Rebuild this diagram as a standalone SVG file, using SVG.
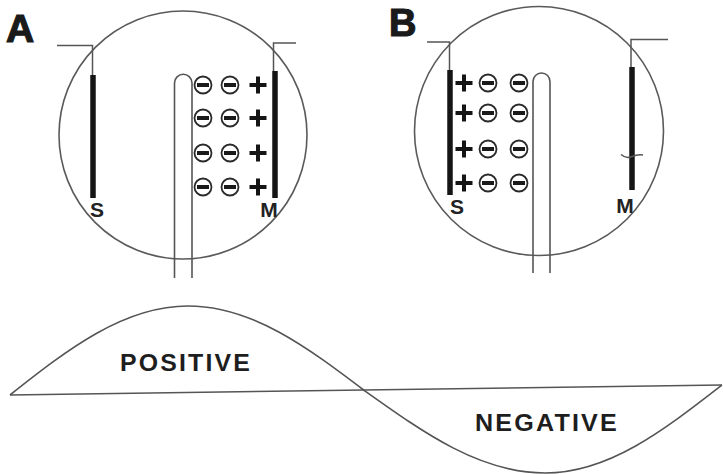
<svg xmlns="http://www.w3.org/2000/svg" xmlns:xlink="http://www.w3.org/1999/xlink" width="723" height="474" viewBox="0 0 723 474">
  <style>
    .bulb { fill: none; stroke: #5a5a5a; stroke-width: 1.6; }
    .wire { fill: none; stroke: #555; stroke-width: 1.5; }
    .plate { stroke: #151515; stroke-width: 5.5; stroke-linecap: butt; }
    .tube { fill: none; stroke: #555; stroke-width: 1.6; }
    .wave { fill: none; stroke: #555; stroke-width: 1.6; }
    .big { font-family: "Liberation Sans", Arial, sans-serif; font-weight: bold; fill: #1a1a1a; stroke: #1a1a1a; stroke-width: 1.2; }
    .lbl { font-family: "Liberation Sans", Arial, sans-serif; font-weight: bold; fill: #222; font-size: 21px; text-anchor: middle; }
    .half { font-family: "Liberation Sans", Arial, sans-serif; font-weight: bold; fill: #1e1e1e; font-size: 23px; }
  </style>
  <defs>
    <!-- electron: circled minus -->
    <g id="neg">
      <circle r="8.5" fill="#fff" stroke="#2a2a2a" stroke-width="1.8"/>
      <line x1="-6" y1="0" x2="6" y2="0" stroke="#1a1a1a" stroke-width="4"/>
    </g>
    <!-- positive charge -->
    <path id="pos" d="M-8.5,0H8.5M0,-8.5V8.5" stroke="#151515" stroke-width="4" fill="none"/>
  </defs>

  <!-- Tube A: electrons gathered by the M plate -->
  <g id="tube-a">
    <text class="big" x="6" y="42" font-size="39">A</text>
    <circle class="bulb" cx="183" cy="135" r="124"/>
    <path class="wire" d="M57,45.5H92.5V75"/>
    <line class="plate" x1="93" y1="75" x2="93" y2="198"/>
    <text class="lbl" x="97" y="217">S</text>
    <path class="wire" d="M296,43H273.5V71"/>
    <line class="plate" x1="275" y1="71" x2="275" y2="198"/>
    <text class="lbl" x="269" y="217">M</text>
    <path class="tube" d="M174.5,278V83A8.75,8.75 0 0 1 192,83V278"/>
    <g id="charges-a">
      <use xlink:href="#neg" x="203" y="85"/><use xlink:href="#neg" x="230" y="85"/><use xlink:href="#pos" x="258" y="85"/>
      <use xlink:href="#neg" x="203" y="118"/><use xlink:href="#neg" x="230" y="118"/><use xlink:href="#pos" x="258" y="118"/>
      <use xlink:href="#neg" x="203" y="153"/><use xlink:href="#neg" x="230" y="153"/><use xlink:href="#pos" x="258" y="153"/>
      <use xlink:href="#neg" x="203" y="187"/><use xlink:href="#neg" x="230" y="187"/><use xlink:href="#pos" x="258" y="187"/>
    </g>
  </g>

  <!-- Tube B: electrons gathered by the S plate -->
  <g id="tube-b">
    <text class="big" x="389" y="36" font-size="38">B</text>
    <circle class="bulb" cx="539" cy="131" r="124.5"/>
    <path class="wire" d="M427,42H449.5V70"/>
    <line class="plate" x1="450" y1="70" x2="450" y2="195"/>
    <text class="lbl" x="457" y="214">S</text>
    <path class="wire" d="M668,39.5H631V67"/>
    <line class="plate" x1="632" y1="67" x2="632" y2="190"/>
    <path class="wire" d="M621,154.5Q626,159 632,156.5Q638,154 643,155" stroke-width="1.1"/>
    <text class="lbl" x="625" y="213">M</text>
    <path class="tube" d="M533,273V81.5A8.5,8.5 0 0 1 550,81.5V273"/>
    <g id="charges-b">
      <use xlink:href="#pos" x="464" y="83"/><use xlink:href="#neg" x="488" y="83"/><use xlink:href="#neg" x="519" y="83"/>
      <use xlink:href="#pos" x="464" y="113"/><use xlink:href="#neg" x="488" y="113"/><use xlink:href="#neg" x="519" y="113"/>
      <use xlink:href="#pos" x="464" y="149"/><use xlink:href="#neg" x="488" y="149"/><use xlink:href="#neg" x="519" y="149"/>
      <use xlink:href="#pos" x="464" y="183"/><use xlink:href="#neg" x="488" y="183"/><use xlink:href="#neg" x="519" y="183"/>
    </g>
  </g>

  <!-- One cycle of alternating voltage -->
  <g id="cycle">
    <line class="wave" x1="10" y1="395" x2="722" y2="385"/>
    <path class="wave" d="M10,395C68,349 124,306 188,306C252,306 307,347 365,391C424,433 480,473 545,473C609,473 664,430 722,385"/>
    <text class="half" x="120" y="371" textLength="132" lengthAdjust="spacingAndGlyphs" letter-spacing="2">POSITIVE</text>
    <text class="half" x="475" y="431" textLength="144" lengthAdjust="spacingAndGlyphs" letter-spacing="2">NEGATIVE</text>
  </g>
</svg>
